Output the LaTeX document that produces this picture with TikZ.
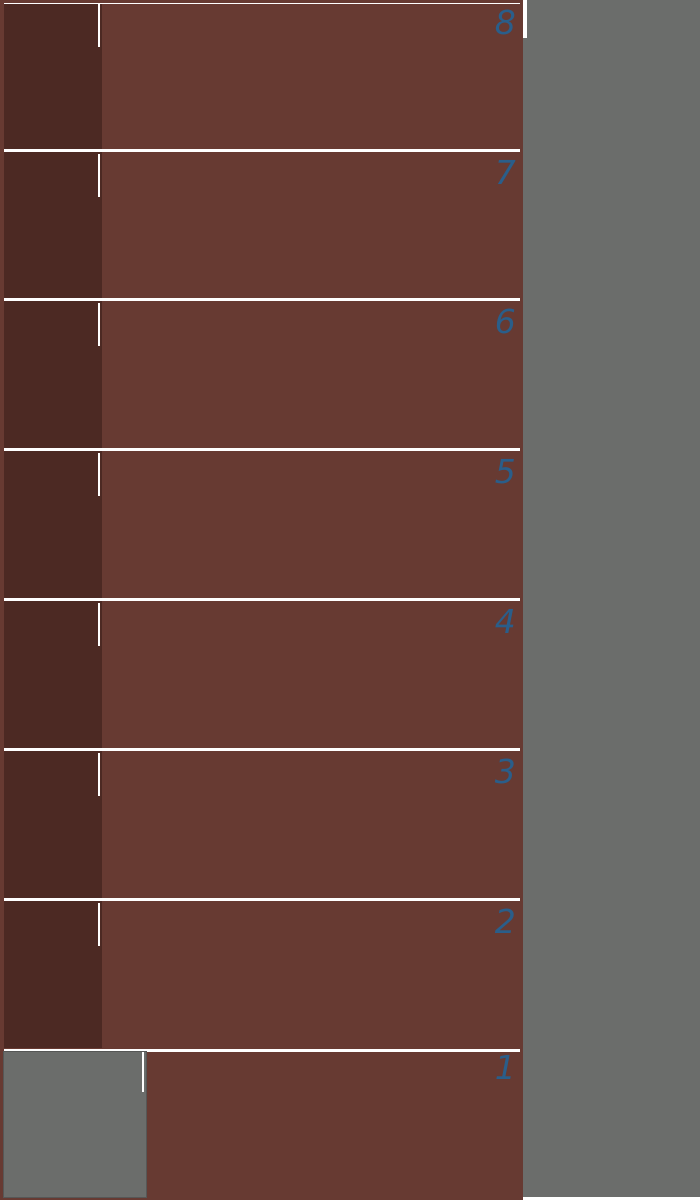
\documentclass[tikz,border=0pt]{standalone}
\usepackage{fontspec}
\newfontfamily\numfont{DejaVu Sans}
\definecolor{brick}{RGB}{103,58,50}
\definecolor{darkbrick}{RGB}{76,41,35}
\definecolor{slate}{RGB}{107,109,107}
\definecolor{inkblue}{RGB}{42,94,138}
\tikzset{
  sepline/.style={white,line width=3pt},
  tickline/.style={white,line width=2.5pt},
  floornum/.style={inkblue,anchor=north east,inner sep=0pt,font=\fontsize{33}{33}\selectfont\numfont\itshape}
}
\begin{document}
\begin{tikzpicture}[x=1pt,y=-1pt]
\useasboundingbox (0,0) rectangle (700,1200);
\fill[white] (0,0) rectangle (700,1200);
\fill[brick] (0,0) rectangle (523,1200);
\fill[slate] (523,0) rectangle (700,1197);
\draw[white,line width=4pt] (525,0) -- (525,38);
\fill[darkbrick] (4,4) rectangle (102,1048);
% top edge
\draw[white,line width=1.5pt] (4,3.5) -- (520,3.5);
% floors
\foreach \y/\n in {0/8,150/7,299/6,449/5,599/4,749/3,899/2}{
  \ifnum\y>0 \draw[sepline] (4,\y) -- (520,\y); \fi
  \draw[tickline] (99,\y+4) -- (99,\y+47);
  \node[floornum] (f\n) at (516,\y+10) {\n};
}
% ground floor
\draw[sepline] (4,1050) -- (520,1050);
\draw[fill=slate,draw=slate!80!black,line width=1pt] (3,1051) rectangle (146,1197);
\draw[tickline] (143,1052) -- (143,1092);
\node[floornum] (f1) at (516,1055) {1};
\end{tikzpicture}
\end{document}
